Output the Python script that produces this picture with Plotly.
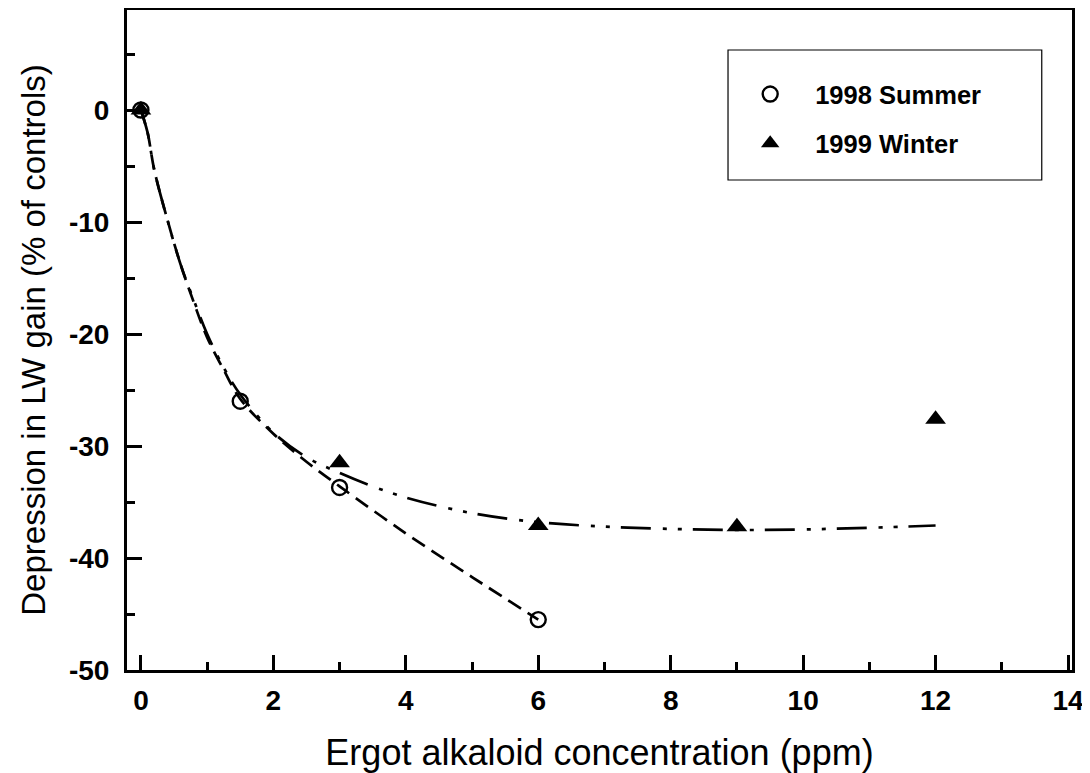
import plotly.graph_objects as go

# Observed data points
summer_x = [0, 1.5, 3, 6]
summer_y = [0, -26.0, -33.7, -45.5]
winter_x = [0, 3, 6, 9, 12]
winter_y = [0, -31.5, -37.1, -37.2, -27.6]

# Fitted curves
summer_fit_x = [0, 0.1, 0.2, 0.4, 0.6, 0.8, 1.0, 1.25, 1.5, 2.0, 2.5, 3.0, 4.0, 5.0, 6.0]
summer_fit_y = [0, -2.0, -5.3, -9.8, -13.8, -17.2, -20.3, -23.2, -25.8, -28.9, -31.4, -33.6, -37.8, -41.7, -45.5]
winter_fit_x = [0, 0.1, 0.2, 0.4, 0.6, 0.8, 1.0, 1.25, 1.5, 2.0, 2.5, 3.0, 3.5, 4.0, 5.0, 6.0, 7.0, 8.0, 9.0, 10.0, 11.0, 12.0]
winter_fit_y = [0, -2.0, -5.3, -9.8, -13.8, -17.0, -20.0, -23.0, -25.4, -28.8, -31.0, -32.4, -33.6, -34.6, -36.0, -36.8, -37.2, -37.4, -37.5, -37.45, -37.3, -37.1]

x_ticks = [0, 2, 4, 6, 8, 10, 12, 14]
x_labels = ["0", "2", "4", "6", "8", "10", "12", "14"]
y_ticks = [0, -10, -20, -30, -40, -50]
y_labels = ["0", "-10", "-20", "-30", "-40", "-50"]

FONT = "Liberation Sans, Arial, sans-serif"

fig = go.Figure()
fig.add_trace(go.Scatter(x=summer_fit_x, y=summer_fit_y, mode="lines", showlegend=False,
                         line=dict(color="black", width=2.7, dash="15px,8px", shape="spline")))
fig.add_trace(go.Scatter(x=winter_fit_x, y=winter_fit_y, mode="lines", showlegend=False,
                         line=dict(color="black", width=2.7, dash="30px,12px,4px,11px,4px,11px", shape="spline")))
fig.add_trace(go.Scatter(x=summer_x, y=summer_y, mode="markers", name="1998 Summer", legendgroup="a",
                         marker=dict(symbol="circle-open", size=15, color="black", line=dict(width=2.4, color="black"))))
fig.add_trace(go.Scatter(x=winter_x, y=winter_y, mode="markers", name="1999 Winter", legendgroup="b",
                         marker=dict(symbol="triangle-up", size=18, color="black", line=dict(width=0))))

# legend frame
fig.add_shape(type="rect", xref="paper", yref="paper", x0=0.636, x1=0.968, y0=0.7424, y1=0.9394,
              line=dict(color="black", width=1.2), fillcolor="rgba(0,0,0,0)")

axis_common = dict(
    showline=True, linecolor="black", linewidth=3, mirror=True,
    ticks="inside", ticklen=15, tickwidth=2.5, tickcolor="black",
    showgrid=False, zeroline=False, automargin=False,
    tickfont=dict(family=FONT, size=28, color="black", weight="bold"),
)

fig.update_xaxes(**axis_common, range=[-0.21, 14.06], tickvals=x_ticks, ticktext=x_labels,
                 ticklabelstandoff=3,
                 minor=dict(ticks="inside", ticklen=8, tickwidth=2.5, tickcolor="black", dtick=1, tick0=0, showgrid=False),
                 title=dict(text="Ergot alkaloid concentration (ppm)", font=dict(family=FONT, size=36, color="black"), standoff=30))
fig.update_yaxes(**axis_common, range=[-50, 8.93], tickvals=y_ticks, ticktext=y_labels,
                 ticklabelstandoff=9,
                 minor=dict(ticks="inside", ticklen=8, tickwidth=2.5, tickcolor="black", dtick=5, tick0=0, showgrid=False),
                 title=dict(text="Depression in LW gain (% of controls)", font=dict(family=FONT, size=33, color="black"), standoff=14))

# page body adds an 8px offset, so the figure is sized to fit the window
fig.update_layout(
    width=1082, height=765,
    margin=dict(l=119, r=18, t=2, b=103),
    plot_bgcolor="white", paper_bgcolor="white",
    legend=dict(x=0.633, y=0.9076, xanchor="left", yanchor="top", bgcolor="rgba(0,0,0,0)",
                borderwidth=0, itemwidth=80, tracegroupgap=13,
                font=dict(family=FONT, size=25.5, color="black", weight="bold")),
)

fig.write_html("out.html")
